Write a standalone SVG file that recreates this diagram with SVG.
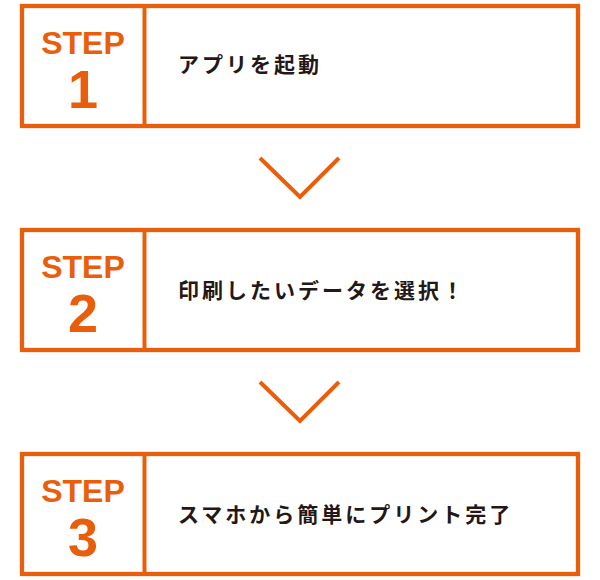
<svg xmlns="http://www.w3.org/2000/svg" width="600" height="580" viewBox="0 0 600 580">
<style>
.box{fill:#fff;stroke:#E95E0B;stroke-width:4.3}
.div{stroke:#E95E0B;stroke-width:4}
.step{font-family:"Liberation Sans",Arial,sans-serif;font-weight:bold;font-size:32px;fill:#E95E0B;text-anchor:middle}
.num{font-family:"Liberation Sans",Arial,sans-serif;font-weight:bold;font-size:54px;fill:#E95E0B;text-anchor:middle}
.lbl{font-family:"Noto Sans CJK JP","Noto Sans",sans-serif;font-weight:bold;font-size:21px;fill:#231815;letter-spacing:3px}
.chev{fill:none;stroke:#E95E0B;stroke-width:4}
</style>
<rect width="600" height="580" fill="#fff"/>
<g id="step1">
<rect class="box" x="22" y="6" width="556" height="120"/>
<line class="div" x1="144.5" y1="6" x2="144.5" y2="126"/>
<text class="step" x="83" y="53.5">STEP</text>
<text class="num" x="83" y="108">1</text>
<text class="lbl" x="178" y="72">アプリを起動</text>
</g>
<g id="step2">
<rect class="box" x="22" y="230" width="556" height="120"/>
<line class="div" x1="144.5" y1="230" x2="144.5" y2="350"/>
<text class="step" x="83" y="277.5">STEP</text>
<text class="num" x="83" y="332">2</text>
<text class="lbl" x="178" y="298">印刷したいデータを選択！</text>
</g>
<g id="step3">
<rect class="box" x="22" y="454" width="556" height="120"/>
<line class="div" x1="144.5" y1="454" x2="144.5" y2="574"/>
<text class="step" x="83" y="501.5">STEP</text>
<text class="num" x="83" y="556">3</text>
<text class="lbl" x="178" y="522">スマホから簡単にプリント完了</text>
</g>
<g id="connectors">
<polyline class="chev" points="260,158 300,197 339,158"/>
<polyline class="chev" points="260,382 300,421 339,382"/>
</g>
</svg>
